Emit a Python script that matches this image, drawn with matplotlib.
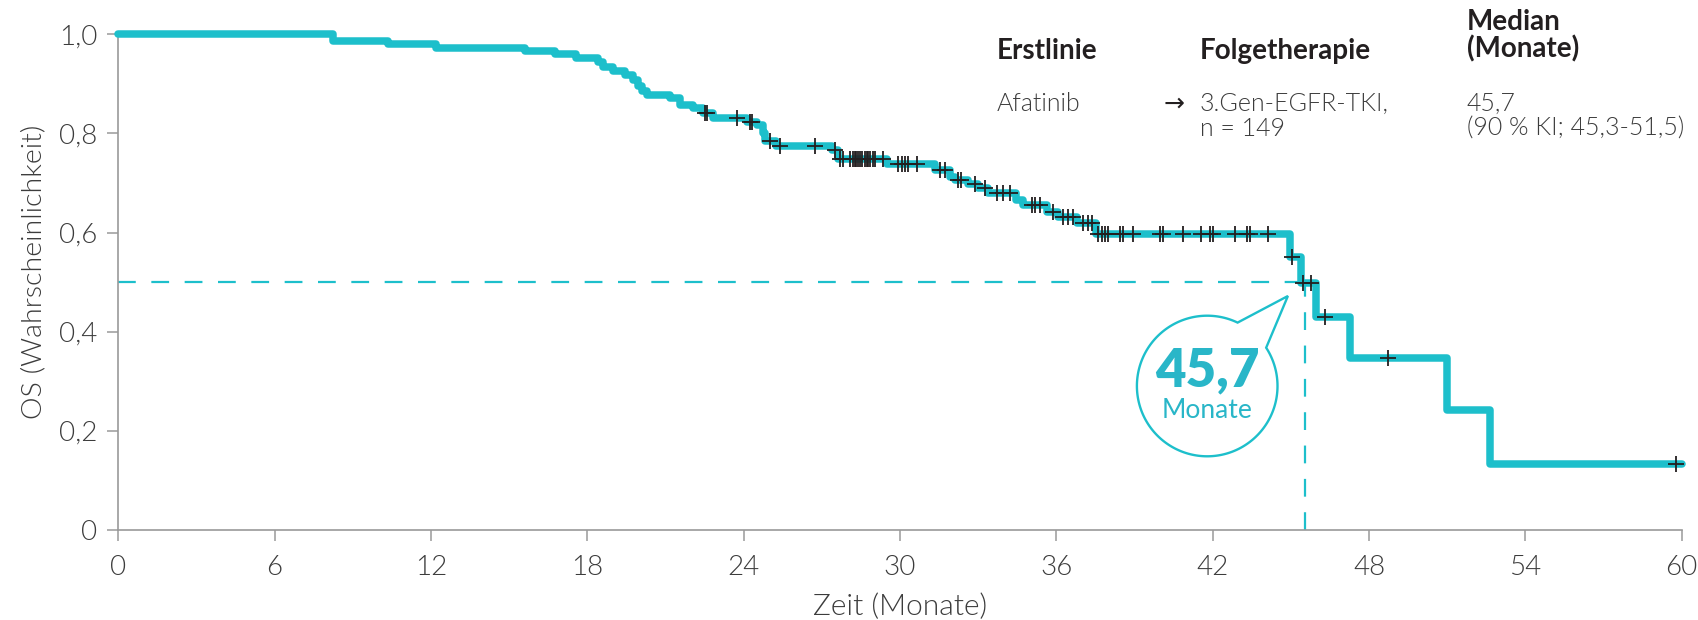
import numpy as np
import matplotlib
matplotlib.use("Agg")
import matplotlib.pyplot as plt
from matplotlib.path import Path
from matplotlib.patches import PathPatch
import matplotlib.transforms as mtransforms

# ---------------- data ----------------
step_times = [0.0, 8.25, 10.35, 12.2, 15.6, 16.75, 17.55, 18.4, 18.6, 19.0, 19.45,
              19.75, 19.95, 20.1, 20.29, 21.17, 21.55, 22.06, 22.45, 22.83, 24.11,
              24.5, 24.75, 24.82, 25.26, 27.4, 27.62, 29.5, 31.34, 31.92, 32.1,
              32.62, 33.0, 33.38, 34.47, 34.73, 35.63, 36.07, 36.78, 37.54, 44.98,
              45.4, 45.95, 47.28, 50.98, 52.64]
step_surv = [1.0, 0.987, 0.980, 0.973, 0.966, 0.960, 0.953, 0.944, 0.934, 0.925, 0.917,
             0.907, 0.895, 0.885, 0.878, 0.871, 0.858, 0.851, 0.841, 0.831, 0.824,
             0.817, 0.800, 0.784, 0.774, 0.766, 0.749, 0.739, 0.726, 0.713, 0.706,
             0.698, 0.689, 0.679, 0.666, 0.656, 0.642, 0.632, 0.619, 0.597, 0.551,
             0.498, 0.430, 0.346, 0.243, 0.133]
end_time = 60.0
censor_times = [22.51, 22.58, 23.73, 24.24, 24.31, 25.01, 25.39, 26.73, 27.5, 27.69,
                27.82, 28.08, 28.21, 28.27, 28.33, 28.4, 28.46, 28.53, 28.65, 28.72,
                28.78, 28.84, 28.97, 29.04, 29.36, 29.93, 30.06, 30.19, 30.31, 30.64,
                31.54, 31.73, 32.23, 32.36, 32.87, 33.26, 33.71, 33.96, 34.22, 35.05,
                35.18, 35.37, 35.88, 36.26, 36.45, 36.65, 37.03, 37.22, 37.35, 37.6,
                37.74, 37.86, 37.99, 38.44, 38.54, 38.95, 39.97, 40.1, 40.87, 41.57,
                41.89, 42.02, 42.85, 43.3, 43.43, 44.13, 45.03, 45.45, 45.78, 46.3,
                48.74, 59.8]
median_x = 45.55
median_y = 0.5
median_text = "45,7"
median_unit = "Monate"
x_ticks = [0, 6, 12, 18, 24, 30, 36, 42, 48, 54, 60]
y_ticks = [0, 0.2, 0.4, 0.6, 0.8, 1.0]
y_tick_labels = ["0", "0,2", "0,4", "0,6", "0,8", "1,0"]
x_label = "Zeit (Monate)"
y_label = "OS (Wahrscheinlichkeit)"
header_cols = ["Erstlinie", "Folgetherapie", "Median\n(Monate)"]
row_first = "Afatinib"
row_follow = "3.Gen-EGFR-TKI,\nn = 149"
row_median = "45,7\n(90 % KI; 45,3-51,5)"

# ---------------- style ----------------
TEAL = "#1DBFCB"
TEAL_TXT = "#29B6C8"
DARK = "#231F20"
TXT = "#3C3C3C"
GREY = "#9A9A9A"
FONT = ["Lato", "DejaVu Sans"]
plt.rcParams["font.family"] = FONT
LIGHT = 300

W, H, DPI = 1698, 620, 100
fig = plt.figure(figsize=(W / DPI, H / DPI), dpi=DPI)
ax = fig.add_axes([118.3 / W, 1 - 530 / H, (1681.7 - 118.3) / W, (530 - 34.3) / H])
ax.set_xlim(0, 60)
ax.set_ylim(0, 1)

for s in ["top", "right"]:
    ax.spines[s].set_visible(False)
for s in ["left", "bottom"]:
    ax.spines[s].set_color(GREY)
    ax.spines[s].set_linewidth(1.2)

ax.set_xticks(x_ticks)
ax.set_xticklabels([str(t) for t in x_ticks])
ax.set_yticks(y_ticks)
ax.set_yticklabels(y_tick_labels)
ax.tick_params(axis="both", direction="out", length=8, width=1.1, color=GREY,
               labelsize=20, labelcolor=TXT)
ax.tick_params(axis="x", pad=10)
ax.tick_params(axis="y", pad=7)
for lab in ax.get_xticklabels() + ax.get_yticklabels():
    lab.set_fontweight(LIGHT)

ax.set_xlabel(x_label, fontsize=21.5, fontweight=LIGHT, color=TXT)
ax.set_ylabel(y_label, fontsize=20.5, fontweight=LIGHT, color=TXT)
ax.xaxis.set_label_coords(0.5, -(615 - 530) / 495.7)
ax.yaxis.set_label_coords((34 - 118.3) / 1563.4, 0.52)
ax.xaxis.label.set_va("baseline")
ax.yaxis.label.set_va("center")

# dashed median guides
ax.plot([0, 45.4], [median_y, median_y], color=TEAL, lw=1.6, dashes=(8, 7), zorder=2)
ax.plot([median_x, median_x], [0, median_y], color=TEAL, lw=1.6, dashes=(8, 7), zorder=2,
        clip_on=False)

# KM curve
xs = list(step_times) + [end_time]
ys = list(step_surv) + [step_surv[-1]]
ax.step(xs, ys, where="post", color=TEAL, lw=5.4, solid_capstyle="round",
        solid_joinstyle="round", zorder=3, clip_on=False)

# censor marks
st = np.array(step_times)
sv = np.array(step_surv)
ct = np.array(censor_times)
cy = sv[np.searchsorted(st, ct, side="right") - 1]
ax.plot(ct, cy, linestyle="none", marker="+", markersize=11, mew=1.3, color=DARK,
        zorder=4, clip_on=False)

# speech bubble (in inches around a data anchor)
cx_d, cy_d = 41.79, 0.2905
r = 0.703
a0, a1 = np.deg2rad(64.4), np.deg2rad(33.0 + 360)
ang = np.linspace(a0, a1, 200)
verts = [(r * np.cos(a), r * np.sin(a)) for a in ang]
verts.append((0.807, 0.90))
verts.append(verts[0])
codes = [Path.MOVETO] + [Path.LINETO] * (len(verts) - 2) + [Path.CLOSEPOLY]
trans = fig.dpi_scale_trans + mtransforms.ScaledTranslation(cx_d, cy_d, ax.transData)
bubble = PathPatch(Path(verts, codes), facecolor="white", edgecolor=TEAL, lw=1.7,
                   transform=trans, zorder=5, clip_on=False)
ax.add_patch(bubble)
ax.text(cx_d, 0.289, median_text, ha="center", va="baseline", fontsize=38,
        fontweight="heavy", color=TEAL_TXT, zorder=6)
ax.text(cx_d, 0.226, median_unit, ha="center", va="baseline", fontsize=19,
        fontweight="normal", color=TEAL_TXT, zorder=6)

# header table
def ftxt(px, py, s, **kw):
    kw.setdefault("color", DARK)
    fig.text(px / W, 1 - py / H, s, va="baseline", ha="left", **kw)

HB = 20
HR = 18
ftxt(997, 59, header_cols[0], fontsize=HB, fontweight="bold")
ftxt(1200, 59, header_cols[1], fontsize=HB, fontweight="bold")
med_lines = header_cols[2].split("\n")
ftxt(1467, 30, med_lines[0], fontsize=HB, fontweight="bold")
ftxt(1467, 57, med_lines[1], fontsize=HB, fontweight="bold")
ftxt(997, 111, row_first, fontsize=HR, fontweight=LIGHT, color=TXT)
ftxt(1164, 111, "\u2192", fontsize=HR, family=["DejaVu Sans"])
fl = row_follow.split("\n")
ftxt(1200, 111, fl[0], fontsize=HR, fontweight=LIGHT, color=TXT)
ftxt(1200, 136, fl[1], fontsize=HR, fontweight=LIGHT, color=TXT)
ml = row_median.split("\n")
ftxt(1467, 111, ml[0], fontsize=HR, fontweight=LIGHT, color=TXT)
ftxt(1467, 136, ml[1], fontsize=HR, fontweight=LIGHT, color=TXT)

fig.savefig("out.png", dpi=DPI)
